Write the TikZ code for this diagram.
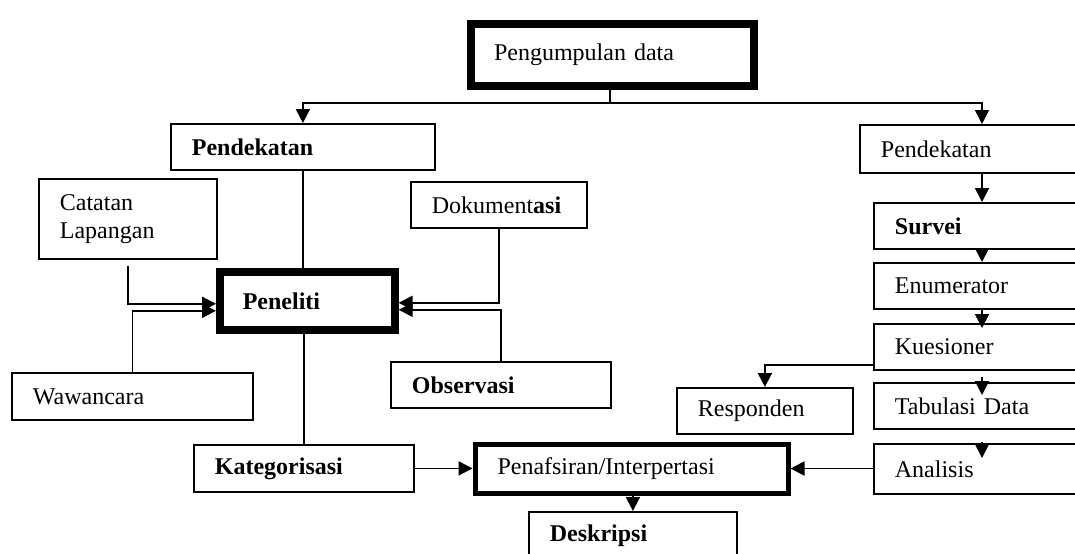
\documentclass[tikz,border=0pt]{standalone}
\usepackage{fontspec}
\setmainfont{Liberation Serif}
\usepackage{tikz}
\usetikzlibrary{arrows.meta}

\tikzset{
  box/.style={draw, line width=0.9pt, anchor=north west, inner xsep=10.5pt, inner ysep=0pt, align=left},
  thickbox/.style={box, line width=#1, inner xsep=11.5pt},
  link/.style={line width=0.9pt}
}

\begin{document}
\begin{tikzpicture}[x=0.5pt, y=-0.5pt, >={Triangle[length=7pt,width=7pt]}, font=\fontsize{12}{14}\selectfont]
\useasboundingbox (0,0) rectangle (1075,553);
\clip (0,0) rectangle (1075,553);

% Top and left branch
\node[thickbox=4pt, text width=118.5pt, minimum height=31pt] (gather) at (467,20) {Pengumpulan data};
\node[box, text width=111pt, minimum height=23pt] (pendL) at (170,123) {\textbf{Pendekatan}};
\node[box, text width=68pt, minimum height=40pt] (catatan) at (38,178) {Catatan\\Lapangan};
\node[box, text width=67pt, minimum height=23pt] (dok) at (410,181) {Dokument\textbf{asi}};
\node[thickbox=3.8pt, text width=64.5pt, minimum height=29pt] (peneliti) at (216,268) {\textbf{Peneliti}};
\node[box, text width=89pt, minimum height=23pt] (obs) at (390,361) {\textbf{Observasi}};
\node[box, text width=99.5pt, minimum height=23.5pt] (waw) at (11,372) {Wawancara};
\node[box, text width=89pt, minimum height=23.5pt] (kat) at (193,444) {\textbf{Kategorisasi}};
\node[thickbox=2.5pt, inner xsep=11.25pt, text width=134pt, minimum height=24.5pt] (penaf) at (472.5,441.5) {Penafsiran/Interpertasi};
\node[box, text width=83pt, minimum height=24pt] (desk) at (528,511) {\textbf{Deskripsi}};

% Right branch
\coordinate (rtrunk) at (982,0);
\node[box, text width=92pt, minimum height=24pt] (pendR) at (859,124) {Pendekatan};
\node[box, text width=85pt, minimum height=23pt] (survei) at (873,202) {\textbf{Survei}};
\node[box, text width=85pt, minimum height=23pt] (enum) at (873,262) {Enumerator};
\node[box, text width=85pt, minimum height=23pt] (kues) at (873,323) {Kuesioner};
\node[box, text width=85pt, minimum height=23pt] (tab) at (873,382) {Tabulasi Data};
\node[box, text width=85pt, minimum height=25pt] (anal) at (873,443) {Analisis};
\node[box, text width=67pt, minimum height=23pt] (resp) at (676,387) {Responden};

% Split from top box
\coordinate (split) at (610,103);
\draw[link] (gather.south -| split) -- (split);
\draw[link, ->] (split) -| (pendL.north);
\draw[link, ->] (split) -| (pendR.north -| rtrunk);

% Edges into and out of Peneliti
\draw[link] (pendL.south) -- (pendL.south |- peneliti.north);
\draw[link, ->] ([yshift=-3pt]catatan.south) |- ([yshift=-1.5pt]peneliti.west);
\draw[link, ->] (waw.north) |- ([yshift=-5pt]peneliti.west);
\draw[link, ->] (dok.south) |- ([yshift=-1pt]peneliti.east);
\draw[link, ->] (obs.north) |- ([yshift=-4.5pt]peneliti.east);
\draw[link] (peneliti.south -| kat.north) -- (kat.north);

% Towards interpretation
\draw[link, ->] (kat.east) -- (kat.east -| penaf.west);
\draw[link, ->] (penaf.south -| desk.north) -- (desk.north);
\draw[link, ->] (anal.west |- penaf.east) -- (penaf.east);

% Right column chain
\draw[link, ->] (pendR.south -| rtrunk) -- (survei.north -| rtrunk);
\draw[link, ->] (survei.south -| rtrunk) -- (enum.north -| rtrunk);
\draw[link, ->, shorten >=-2.5pt] (enum.south -| rtrunk) -- (kues.north -| rtrunk);
\draw[link, ->, shorten <=3pt, shorten >=-6.5pt] (kues.south -| rtrunk) -- (tab.north -| rtrunk);
\draw[link, ->, shorten <=6pt, shorten >=-7.5pt] (tab.south -| rtrunk) -- (anal.north -| rtrunk);
\draw[link, ->] ([yshift=-9pt]kues.west) -| (resp.north);
\end{tikzpicture}
\end{document}
